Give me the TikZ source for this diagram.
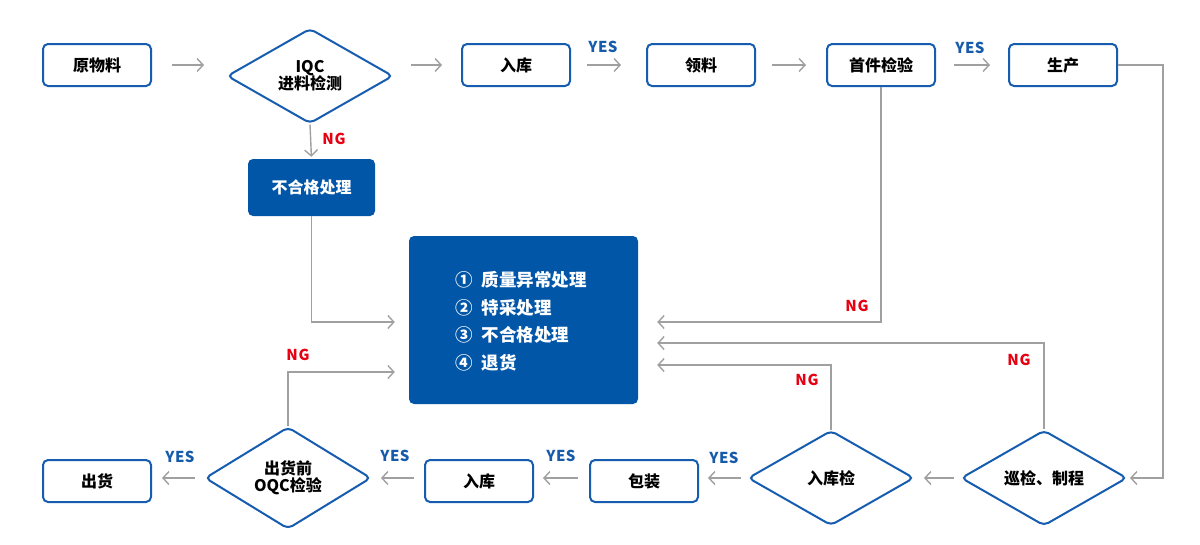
\documentclass[tikz,border=0pt]{standalone}
\usepackage{fontspec}
\setmainfont{Noto Sans CJK SC}
\usetikzlibrary{shapes.geometric,arrows.meta}
\definecolor{bordblue}{RGB}{22,92,175}
\definecolor{fillblue}{RGB}{2,86,168}
\definecolor{ngred}{RGB}{230,0,18}
\definecolor{yesblue}{RGB}{22,90,170}
\definecolor{linegrey}{RGB}{160,160,160}
\begin{document}
\begin{tikzpicture}[x=1pt,y=-1pt,
  txt/.style={font=\fontsize{16}{19}\selectfont\bfseries},
  procbox/.style={txt,draw=bordblue,line width=2pt,rounded corners=5pt,minimum width=108pt,minimum height=42pt,inner sep=0pt,fill=white},
  darkbox/.style={txt,fill=fillblue,text=white,rounded corners=5pt,inner sep=0pt},
  dia/.style={txt,diamond,draw=bordblue,line width=2pt,rounded corners=5pt,minimum width=166pt,minimum height=95pt,inner sep=0pt,align=center,fill=white},
  conn/.style={draw=linegrey,line width=1.4pt,-{Straight Barb[length=6pt,width=13pt]}},
  ng/.style={font=\fontsize{15}{15}\selectfont\bfseries\addfontfeatures{LetterSpace=6},text=ngred},
  yes/.style={font=\fontsize{15}{15}\selectfont\bfseries\addfontfeatures{LetterSpace=3},text=yesblue},
  itemtxt/.style={text=white,anchor=west,font=\fontsize{17.5}{20}\selectfont\bfseries},
]
\useasboundingbox (0,0) rectangle (1200,544);
% top row
\node[procbox] (yl) at (97,65) {原物料};
\node[dia] (iqc) at (310,76) {IQC\\[-2pt]进料检测};
\node[procbox] (rk1) at (516,65) {入库};
\node[procbox] (ll) at (701,65) {领料};
\node[procbox] (sj) at (881,65) {首件检验};
\node[procbox] (sc) at (1063,65) {生产};
% middle
\node[darkbox,minimum width=127pt,minimum height=57pt] (bhg) at (311.5,187.5) {不合格处理};
\node[darkbox,minimum width=229pt,minimum height=168pt] (big) at (523.5,320) {};
\node[itemtxt] (i1) at (452,280) {①\hspace{0.5em}质量异常处理};
\node[itemtxt] (i2) at (452,307.5) {②\hspace{0.5em}特采处理};
\node[itemtxt] (i3) at (452,335) {③\hspace{0.5em}不合格处理};
\node[itemtxt] (i4) at (452,362.5) {④\hspace{0.5em}退货};
% bottom row
\node[procbox] (ch) at (97,481) {出货};
\node[dia] (oqc) at (288,478) {出货前\\[-2pt]OQC检验};
\node[procbox] (rk2) at (479,481) {入库};
\node[procbox] (bz) at (644,481) {包装};
\node[dia] (rkj) at (831,478) {入库检};
\node[dia] (xj) at (1044,478) {巡检、制程};
% top arrows
\draw[conn,shorten <=20pt,shorten >=22pt] (yl.east) -- (yl.east -| iqc.west);
\draw[conn,shorten <=17pt,shorten >=19pt] (iqc.east |- rk1.west) -- (rk1.west);
\draw[conn,shorten <=16pt,shorten >=25pt] (rk1.east) -- (ll.west);
\draw[conn,shorten <=16pt,shorten >=20pt] (ll.east) -- (sj.west);
\draw[conn,shorten <=18pt,shorten >=18pt] (sj.east) -- (sc.west);
\node[yes] (y1) at (603,47) {YES};
\node[yes] (y2) at (970,48) {YES};
% IQC NG
\draw[conn,shorten >=2pt] (iqc.south) -- (bhg.north);
\node[ng] (n1) at (334,139) {NG};
\draw[conn,shorten >=14pt] (bhg.south) |- ([shift={(0,2)}]big.west);
% right side feedback
\draw[conn] (sc.east) -| ([shift={(35,0)}]xj.east) -- ([shift={(2,0)}]xj.east);
\draw[conn,shorten >=19pt] (sj.south) |- ([shift={(0,2)}]big.east);
\node[ng] (n2) at (857,306) {NG};
\draw[conn,shorten >=19pt] (xj.north) |- ([shift={(0,23)}]big.east);
\node[ng] (n3) at (1019,360) {NG};
\draw[conn,shorten >=19pt] (rkj.north) |- ([shift={(0,45)}]big.east);
\node[ng] (n4) at (807,380) {NG};
\draw[conn,shorten >=14pt] (oqc.north) |- ([shift={(0,52)}]big.west);
\node[ng] (n5) at (298,355) {NG};
% bottom arrows
\draw[conn,shorten <=6pt,shorten >=9pt] (xj.west) -- (rkj.east);
\draw[conn,shorten <=6pt,shorten >=9pt] (rkj.west) -- (rkj.west -| bz.east);
\draw[conn,shorten <=11pt,shorten >=9pt] (bz.west |- rkj.west) -- (rkj.west -| rk2.east);
\draw[conn,shorten <=10pt,shorten >=9pt] (rk2.west |- oqc.east) -- (oqc.east);
\draw[conn,shorten <=9pt,shorten >=10pt] (oqc.west) -- (oqc.west -| ch.east);
\node[yes] (y3) at (724,458) {YES};
\node[yes] (y4) at (561,456) {YES};
\node[yes] (y5) at (395,456) {YES};
\node[yes] (y6) at (180,457) {YES};
\end{tikzpicture}
\end{document}
